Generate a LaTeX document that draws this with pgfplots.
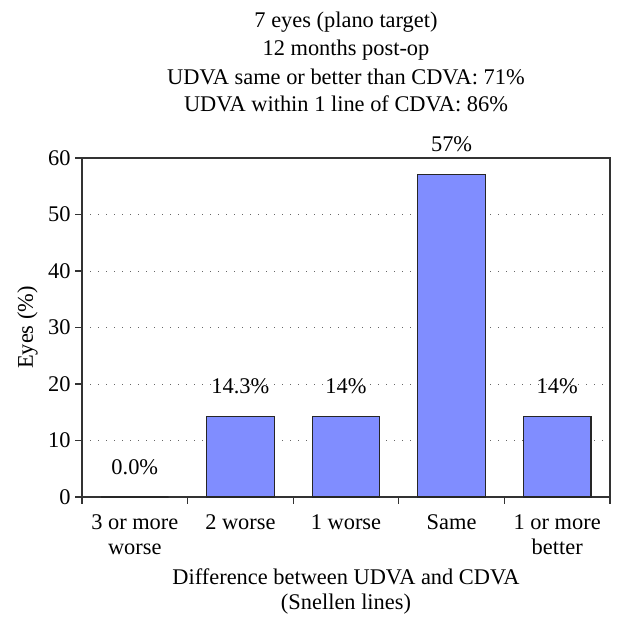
\documentclass[border=0pt]{standalone}
\usepackage{pgfplots}
\pgfplotsset{compat=1.18}
\usepackage{fontspec}
\setmainfont{Liberation Serif}
\definecolor{barblue}{RGB}{128,141,255}
\begin{document}
\begin{tikzpicture}[font=\fontsize{16.8}{18.75}\selectfont]
\begin{axis}[
  scale only axis,
  width=396pt, height=254.25pt,
  xmin=-0.5, xmax=4.5,
  ymin=0, ymax=60,
  ytick={0,10,...,60},
  xtick={-0.5,0.5,...,4.5},
  x tick label as interval,
  xticklabels={{3 or more\\worse},{2 worse},{1 worse},{Same},{1 or more\\better}},
  x tick label style={align=center, anchor=north, yshift=-4.5pt},
  tick align=outside,
  xtick pos=bottom, ytick pos=left,
  major tick length=5pt,
  tick style={black!80, line width=0.9pt},
  axis line style={black!80, line width=1.1pt},
  ymajorgrids,
  major grid style={black!60, line width=0.7pt, dash pattern=on 0.7pt off 5.3pt},
  /pgf/number format/assume math mode=true,
  ybar, bar width=0.64,
  nodes near coords,
  point meta=explicit symbolic,
  every node near coord/.append style={anchor=base, yshift=17pt},
  clip=false,
]
\addplot[fill=barblue, draw=black!85, line width=0.8pt] coordinates {
  (0,0) [0.0\%]
  (1,14.3) [14.3\%]
  (2,14.3) [14\%]
  (3,57.1) [57\%]
  (4,14.3) [14\%]
};
\coordinate (bl) at (rel axis cs:0,0);
\coordinate (tr) at (rel axis cs:1,1);
\coordinate (tc) at (rel axis cs:0.5,1);
\coordinate (bc) at (rel axis cs:0.5,0);
\coordinate (lc) at (rel axis cs:0,0.5);
\end{axis}
\node[anchor=base] at ([yshift=97.5pt]tc) {7 eyes (plano target)};
\node[anchor=base] at ([yshift=76.5pt]tc) {12 months post-op};
\node[anchor=base] at ([yshift=54.75pt]tc) {UDVA same or better than CDVA: 71\%};
\node[anchor=base] at ([yshift=34.5pt]tc) {UDVA within 1 line of CDVA: 86\%};
\node[anchor=base] at ([yshift=-66pt]bc) {Difference between UDVA and CDVA};
\node[anchor=base] at ([yshift=-84.75pt]bc) {(Snellen lines)};
\node[anchor=base, rotate=90] at ([xshift=-36.75pt]lc) {Eyes (\%)};
\pgfresetboundingbox
\path ([xshift=-61.5pt,yshift=-99pt]bl) rectangle ([xshift=10.9pt,yshift=118.5pt]tr);
\end{tikzpicture}
\end{document}
